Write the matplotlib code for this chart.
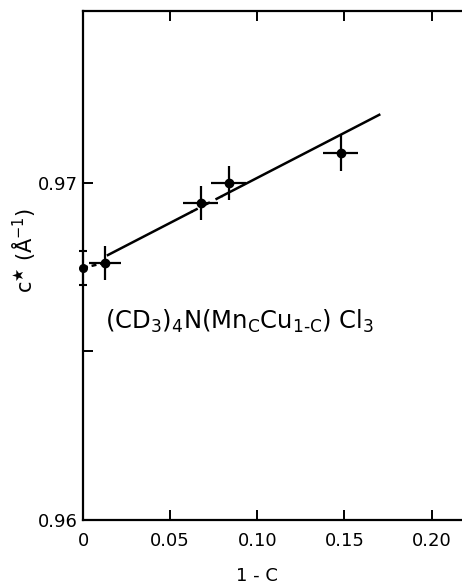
import matplotlib.pyplot as plt
import numpy as np

# data
conc = [0.0, 0.0126, 0.0676, 0.0836, 0.148]          # 1 - c
cstar = [0.96748, 0.96763, 0.96941, 0.97000, 0.97089]  # c* (1/A)
xerr = [0.0, 0.009, 0.010, 0.010, 0.010]
yerr = [0.0005, 0.0005, 0.0005, 0.0005, 0.00053]

# straight-line fit drawn through the data
fit_x = [0.0143, 0.17]
fit_y = [0.96786, 0.97202]
gap_x = [0.062, 0.080]   # short dashed bit of the fit line

fig = plt.figure(figsize=(4.62, 5.84), dpi=100)
ax = fig.add_axes([0.1797, 0.1096, 0.8203, 0.8716])

# fit line: solid / dashed / solid
slope = (fit_y[1] - fit_y[0]) / (fit_x[1] - fit_x[0])
f = lambda x: fit_y[0] + slope * (x - fit_x[0])
ax.plot([fit_x[0], gap_x[0]], [f(fit_x[0]), f(gap_x[0])], color='black', lw=1.8)
ax.plot(gap_x, [f(v) for v in gap_x], color='black', lw=1.8, ls=(0, (3, 2.5)))
ax.plot([gap_x[1], fit_x[1]], [f(gap_x[1]), f(fit_x[1])], color='black', lw=1.8)

# dashed link between the pure sample and the first mixed one
ax.plot(conc[:2], cstar[:2], color='black', lw=1.8, ls=(0, (2, 1.5)), clip_on=False)

# first point sits on the axis, with caps
ax.errorbar(conc[:1], cstar[:1], yerr=yerr[:1], fmt='o', color='black',
            ms=5.5, elinewidth=1.5, capsize=3, capthick=1.5, clip_on=False, zorder=5)
ax.errorbar(conc[1:], cstar[1:], xerr=xerr[1:], yerr=yerr[1:], fmt='o', color='black',
            ms=6, elinewidth=1.6, capsize=0, zorder=5)

ax.set_xlim(0, 0.2175)
ax.set_ylim(0.96, 0.9751)

ax.set_xticks([0, 0.05, 0.10, 0.15, 0.20])
ax.set_xticklabels(['0', '0.05', '0.10', '0.15', '0.20'])
ax.set_yticks([0.96, 0.97])
ax.set_yticklabels(['0.96', '0.97'])
ax.set_yticks([0.965], minor=True)

ax.tick_params(axis='both', which='major', direction='in', length=7, width=1.4,
               labelsize=13, top=True)
ax.tick_params(axis='y', which='minor', direction='in', length=7, width=1.4)
ax.tick_params(axis='x', pad=9)
ax.tick_params(axis='y', pad=4)

for side in ['left', 'bottom', 'top']:
    ax.spines[side].set_linewidth(1.6)
ax.spines['right'].set_visible(False)

ax.set_xlabel('1 - C', fontsize=13)
ax.xaxis.set_label_coords(0.46, -0.093)
ax.set_ylabel('c$^{★}$ (Å$^{-1}$)', fontsize=15)
ax.yaxis.set_label_coords(-0.12, 0.53)

ax.text(0.0899, 0.9659, r'(CD$_3$)$_4$N(Mn$_{\rm C}$Cu$_{\rm 1\text{-}C}$) Cl$_3$',
        fontsize=17.5, ha='center', va='center')

fig.savefig('out.png', dpi=100)
